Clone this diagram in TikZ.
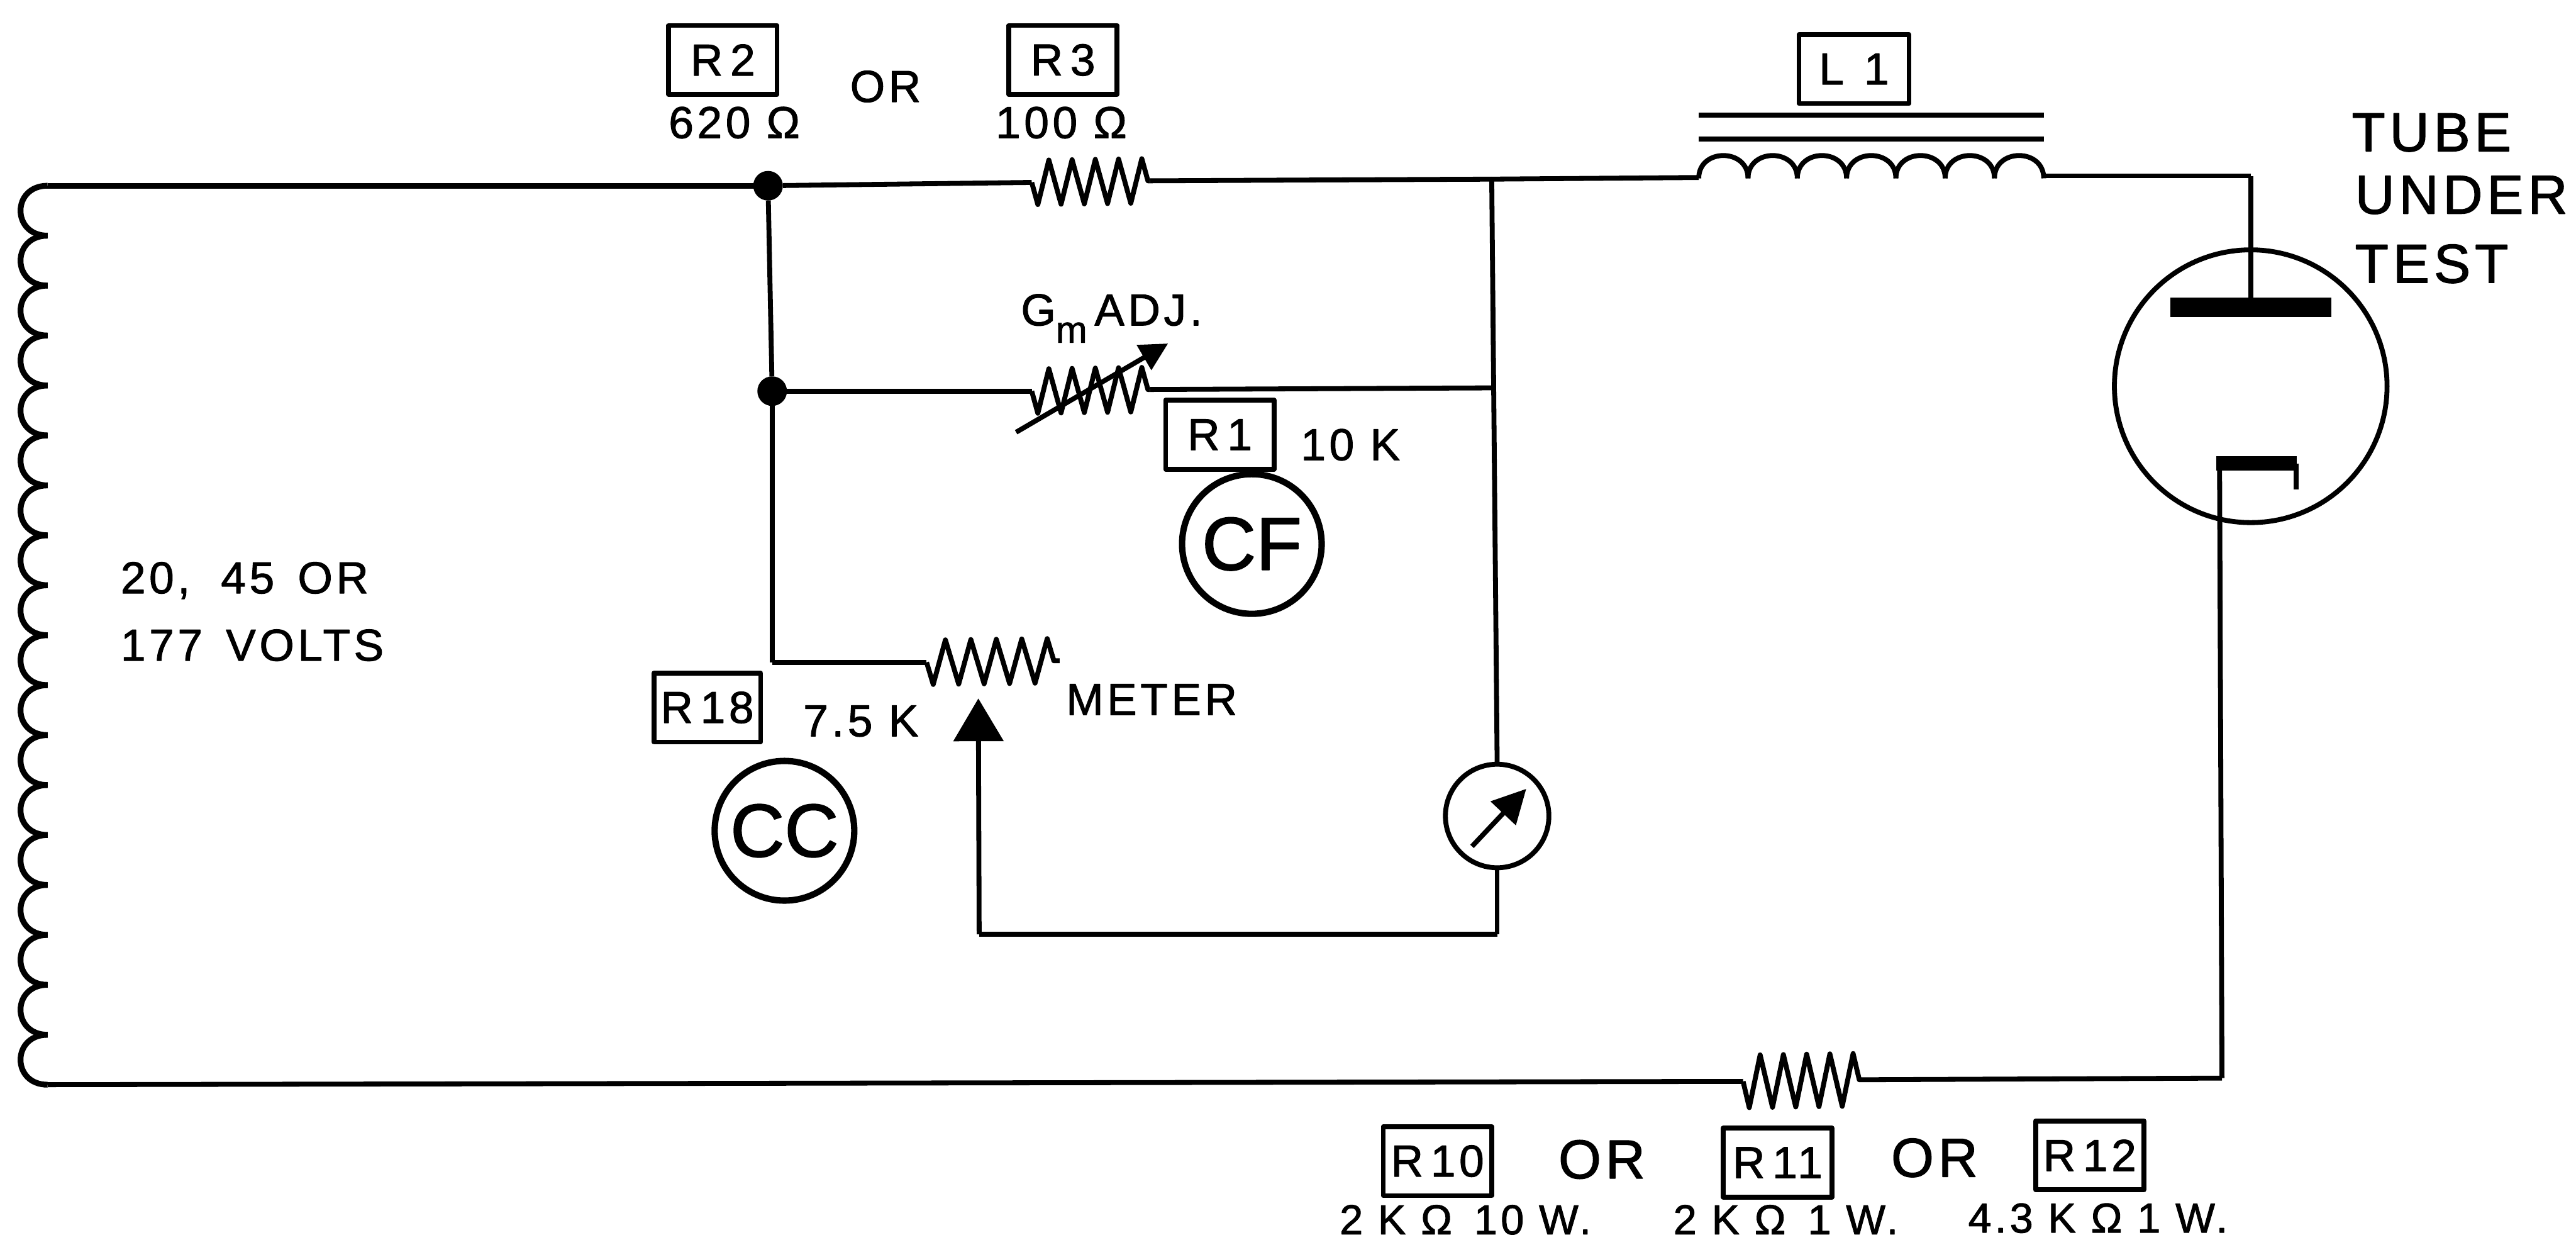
\documentclass[tikz,border=0pt]{standalone}
\usepackage{fontspec}
\setmainfont[LetterSpace=8,FakeBold=1.5]{Liberation Sans}
\usetikzlibrary{arrows.meta,decorations.pathmorphing}

\begin{document}
\begin{tikzpicture}[
    x = 0.02cm,
    y = -0.02cm,
    line width = 1.7pt,
    line join = round,
    lbl/.style = {
      inner sep = 0pt,
      anchor = base,
      font = \fontsize{15.5}{18}\selectfont
    },
    title/.style = {
      lbl,
      anchor = base west,
      font = \fontsize{19}{22}\selectfont
    },
    tag/.style = {
      draw,
      inner sep = 0pt,
      minimum width = 1.32cm,
      minimum height = 0.84cm,
      font = \fontsize{15.5}{18}\selectfont
    },
    badge/.style = {
      draw,
      circle,
      line width = 2.2pt,
      inner sep = 0pt,
      minimum size = 1.7cm,
      font = \fontsize{26}{30}\selectfont\addfontfeature{LetterSpace=0}
    },
    dot/.style = {
      fill,
      circle,
      inner sep = 0pt,
      outer sep = 0pt,
      minimum size = 0.36cm
    },
    bar/.style = {
      fill,
      inner sep = 0pt,
      outer sep = 0pt
    },
    resist/.style = {
      decorate,
      decoration = {zigzag, segment length = 0.283cm, amplitude = 0.27cm, mirror}
    }
  ]
  \useasboundingbox (0,0) rectangle (1568,754.4);

  % source coil
  \coordinate (coiltop) at (29,113);
  \coordinate (coilbot) at (29,660);
  \foreach \i [evaluate=\i as \ya using 113+30.39*\i, evaluate=\i as \yb using 113+30.39*(\i+1)] in {0,...,17}
    \draw[line width=2pt] (29,\ya) .. controls (7,\ya) and (7,\yb) .. (29,\yb);

  % top branch
  \node[dot] (jtop) at (467.5,113) {};
  \node[dot] (jmid) at (470,238) {};
  \coordinate (r3a) at (628,111);
  \coordinate (r3b) at (700,110);
  \coordinate (tap) at (908,109);
  \coordinate (l1a) at (1034,108);
  \coordinate (l1b) at (1244,107);
  \coordinate (anode) at (1370,107);
  \draw[line width=2pt] (coiltop) -- (jtop);
  \draw (jtop) -- (r3a);
  \draw[resist] (r3a) -- (r3b);
  \draw (r3b) -- (tap);
  \draw (tap) -- (l1a);
  \foreach \i [evaluate=\i as \xa using 1034+30*\i, evaluate=\i as \xb using 1034+30*(\i+1)] in {0,...,6}
    \draw (\xa,108.5) .. controls (\xa,90) and (\xb,90) .. (\xb,108.5);
  \draw (l1b) -- (anode);

  % choke core
  \coordinate (corea) at (1034,70);
  \coordinate (coreb) at (1244,70);
  \coordinate (corec) at (1034,84.5);
  \coordinate (cored) at (1244,84.5);
  \draw (corea) -- (coreb);
  \draw (corec) -- (cored);

  % tube
  \node[draw, circle, inner sep=0pt, minimum size=3.32cm] (tube) at (1370,235) {};
  \node[bar, minimum width=1.96cm, minimum height=0.24cm] (plate) at (1370,187) {};
  \node[bar, minimum width=0.98cm, minimum height=0.18cm] (cath) at (1373.5,282) {};
  \coordinate (cathl) at (1351,278);
  \coordinate (cathr) at (1397.5,282);
  \coordinate (cathe) at (1397.5,298);
  \coordinate (cornerbr) at (1352.5,656);
  \draw (anode) -- (plate.north);
  \draw (cathr) -- (cathe);
  \draw (cathl) -- (cornerbr);

  % bottom branch
  \coordinate (r10a) at (1061,658);
  \coordinate (r10b) at (1132,657);
  \draw (coilbot) -- (r10a);
  \draw[resist, decoration={amplitude=0.32cm}] (r10a) -- (r10b);
  \draw (r10b) -- (cornerbr);

  % adjust branch
  \coordinate (r1a) at (628,238);
  \coordinate (r1b) at (700,237);
  \coordinate (tapb) at (908.5,236);
  \coordinate (adja) at (618.5,263);
  \coordinate (adjb) at (711,209);
  \draw (jtop) -- (jmid);
  \draw (jmid) -- (r1a);
  \draw[resist] (r1a) -- (r1b);
  \draw (r1b) -- (tapb);
  \draw[-{Triangle[length=0.34cm, width=0.34cm]}] (adja) -- (adjb);

  % meter branch
  \node[draw, circle, inner sep=0pt, minimum size=1.26cm] (meter) at (911.3,496.5) {};
  \coordinate (corner) at (470,403);
  \coordinate (r18a) at (564,403);
  \coordinate (r18b) at (645,402);
  \coordinate (wipe) at (595.5,425);
  \coordinate (wipeb) at (596,568.5);
  \coordinate (meterb) at (911.3,568.5);
  \coordinate (needa) at (896,515);
  \coordinate (needb) at (929,480);
  \draw (jmid) -- (corner);
  \draw (corner) -- (r18a);
  \draw[resist, decoration={segment length=0.31cm}] (r18a) -- (r18b);
  \draw (tap) -- (meter.north);
  \draw (meter.south) -- (meterb);
  \draw (meterb) -- (wipeb);
  \draw[-{Triangle[length=0.52cm, width=0.6cm]}] (wipeb) -- (wipe);
  \draw[-{Triangle[length=0.41cm, width=0.41cm]}] (needa) -- (needb);

  % labels
  \node[tag] (tagrtwo) at (440,36.5) {R\,2};
  \node[tag] (tagrthree) at (647,36.5) {R\,3};
  \node[tag, minimum width=1.34cm] (taglone) at (1128.5,42) {L\hspace{7pt}1};
  \node[tag] (tagrone) at (742.5,264.5) {R\,1};
  \node[tag, minimum width=1.3cm] (tagreight) at (430.5,430.5) {R\,18};
  \node[tag] (tagrten) at (875,706.5) {R\,10};
  \node[tag] (tagrele) at (1082,707.5) {R\,11};
  \node[tag] (tagrtwe) at (1272,703) {R\,12};
  \node[lbl] (valrtwo) at (447,84) {620 Ω};
  \node[lbl] (orone) at (539,62) {OR};
  \node[lbl] (valrthree) at (646,84) {100 Ω};
  \node[lbl, anchor=base west] (adjtext) at (620,198) {G\raisebox{-6pt}{\fontsize{13}{14}\selectfont m}\,ADJ.};
  \node[lbl] (valrone) at (822,280) {10 K};
  \node[lbl] (valreight) at (524,448) {7.5 K};
  \node[lbl] (metertext) at (701,435) {METER};
  \node[badge] (cf) at (762,331) {CF};
  \node[badge] (cc) at (477.5,505.5) {CC};
  \node[lbl, anchor=base west] (voltsa) at (72,361) {20,\,\, 45\, OR};
  \node[lbl, anchor=base west] (voltsb) at (72,402) {177\, VOLTS};
  \node[title] (tubea) at (1430,92) {TUBE};
  \node[title] (tubeb) at (1432,130) {UNDER};
  \node[title] (tubec) at (1432,172) {TEST};
  \node[lbl, font=\fontsize{19}{22}\selectfont] (ortwo) at (975,717) {OR};
  \node[lbl, font=\fontsize{19}{22}\selectfont] (orthree) at (1177.5,716) {OR};
  \node[lbl, font=\fontsize{14.5}{16}\selectfont] (valrten) at (892,751) {2 K Ω\, 10 W.};
  \node[lbl, font=\fontsize{14.5}{16}\selectfont] (valrele) at (1087,751) {2 K Ω\, 1 W.};
  \node[lbl, font=\fontsize{14.5}{16}\selectfont] (valrtwe) at (1277,750) {4.3 K Ω 1 W.};
\end{tikzpicture}
\end{document}
